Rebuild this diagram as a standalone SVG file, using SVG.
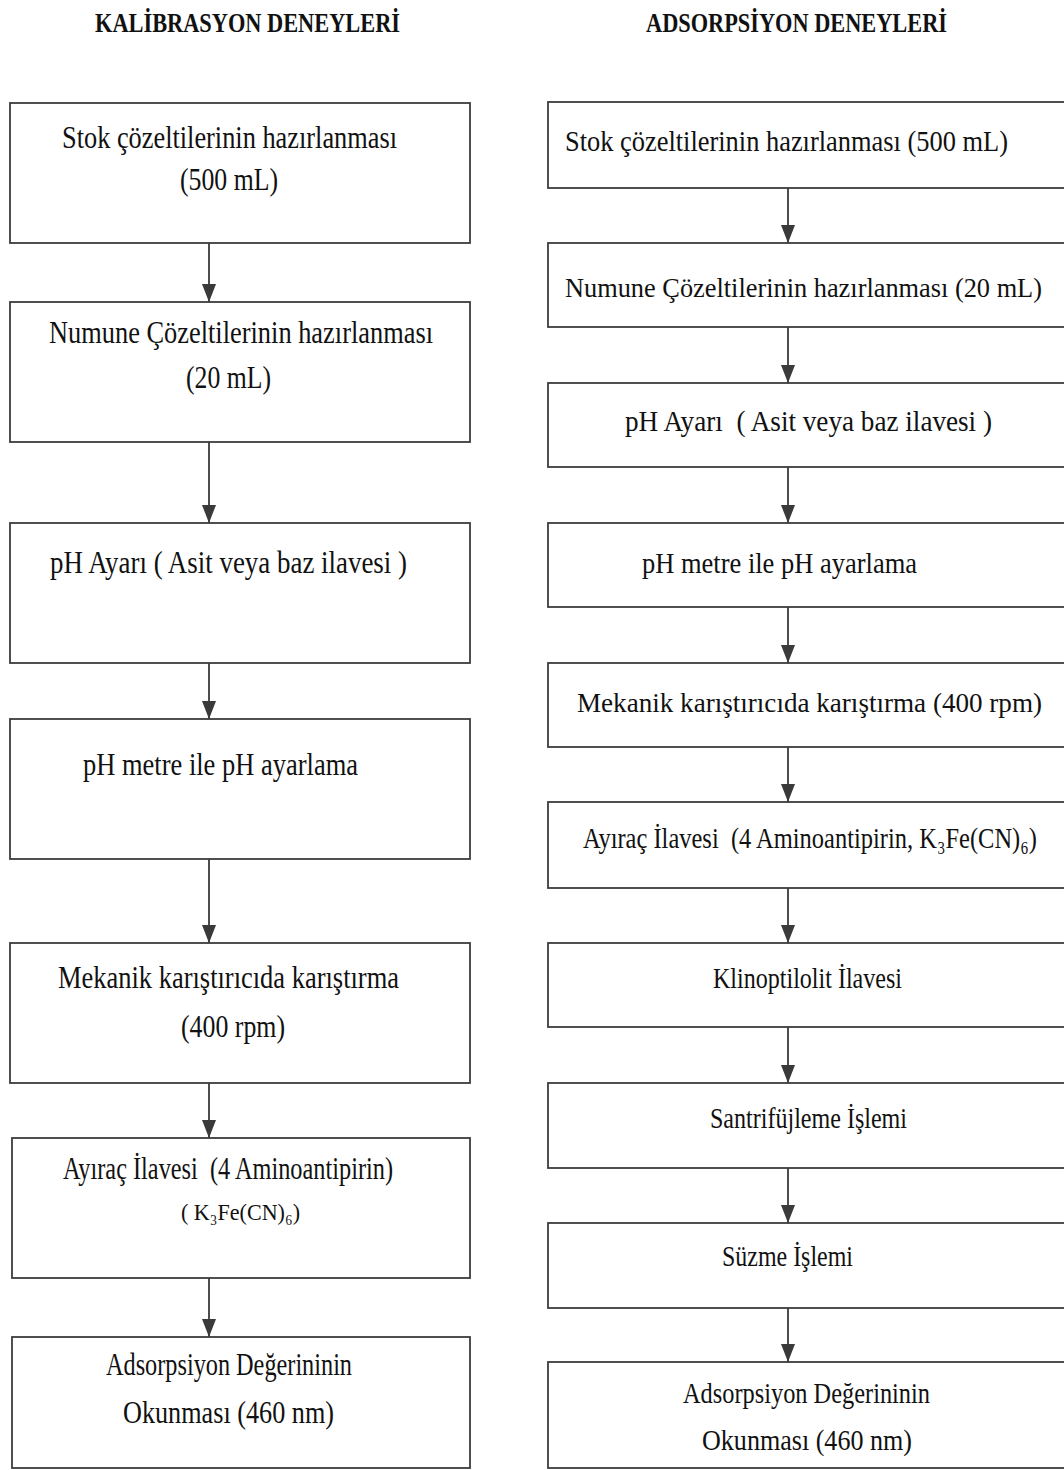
<svg xmlns="http://www.w3.org/2000/svg" width="1064" height="1470" viewBox="0 0 1064 1470">
<defs>
<marker id="ah" markerUnits="userSpaceOnUse" markerWidth="18" markerHeight="14" refX="18" refY="7" orient="auto" viewBox="0 0 18 14">
<path d="M0,0 L18,7 L0,14 Z" fill="#3a3a3a"/>
</marker>
<style>
.box{fill:#fff;stroke:#3c3c3c;stroke-width:1.8}
.t{font-family:"Liberation Serif","DejaVu Serif","Times New Roman",serif;fill:#111;white-space:pre}
.l{font-size:32px}
.r{font-size:29px}
.rs{font-size:27px}
.s{font-size:23px}
.h{font-family:"Liberation Serif","Times New Roman",serif;font-weight:bold;font-size:28px;fill:#111}
.c{stroke:#3a3a3a;stroke-width:1.8;fill:none;marker-end:url(#ah)}
</style>
</defs>
<rect width="1064" height="1470" fill="#fff"/>
<g id="titles">
<text class="h" x="95" y="32" textLength="305" lengthAdjust="spacingAndGlyphs">KALİBRASYON DENEYLERİ</text>
<text class="h" x="646" y="32" textLength="301" lengthAdjust="spacingAndGlyphs">ADSORPSİYON DENEYLERİ</text>
</g>
<g id="connectors">
<line class="c" x1="209" y1="243" x2="209" y2="302"/>
<line class="c" x1="209" y1="442" x2="209" y2="523"/>
<line class="c" x1="209" y1="663" x2="209" y2="719"/>
<line class="c" x1="209" y1="859" x2="209" y2="943"/>
<line class="c" x1="209" y1="1083" x2="209" y2="1138"/>
<line class="c" x1="209" y1="1278" x2="209" y2="1337"/>
<line class="c" x1="788" y1="188" x2="788" y2="243"/>
<line class="c" x1="788" y1="327" x2="788" y2="383"/>
<line class="c" x1="788" y1="467" x2="788" y2="523"/>
<line class="c" x1="788" y1="607" x2="788" y2="663"/>
<line class="c" x1="788" y1="747" x2="788" y2="802"/>
<line class="c" x1="788" y1="888" x2="788" y2="943"/>
<line class="c" x1="788" y1="1027" x2="788" y2="1083"/>
<line class="c" x1="788" y1="1168" x2="788" y2="1223"/>
<line class="c" x1="788" y1="1308" x2="788" y2="1362"/>
</g>
<g id="L1"><rect class="box" x="10" y="103" width="460" height="140"/>
<text class="t l" x="62" y="148" textLength="335" lengthAdjust="spacingAndGlyphs">Stok çözeltilerinin hazırlanması</text>
<text class="t l" x="180" y="190" textLength="98" lengthAdjust="spacingAndGlyphs">(500 mL)</text></g>
<g id="L2"><rect class="box" x="10" y="302" width="460" height="140"/>
<text class="t l" x="49" y="343" textLength="384" lengthAdjust="spacingAndGlyphs">Numune Çözeltilerinin hazırlanması</text>
<text class="t l" x="186" y="388" textLength="85" lengthAdjust="spacingAndGlyphs">(20 mL)</text></g>
<g id="L3"><rect class="box" x="10" y="523" width="460" height="140"/>
<text class="t l" x="50" y="573" textLength="357" lengthAdjust="spacingAndGlyphs">pH Ayarı ( Asit veya baz ilavesi )</text></g>
<g id="L4"><rect class="box" x="10" y="719" width="460" height="140"/>
<text class="t l" x="83" y="775" textLength="275" lengthAdjust="spacingAndGlyphs">pH metre ile pH ayarlama</text></g>
<g id="L5"><rect class="box" x="10" y="943" width="460" height="140"/>
<text class="t l" x="58" y="988" textLength="341" lengthAdjust="spacingAndGlyphs">Mekanik karıştırıcıda karıştırma</text>
<text class="t l" x="181" y="1037" textLength="104" lengthAdjust="spacingAndGlyphs">(400 rpm)</text></g>
<g id="L6"><rect class="box" x="12" y="1138" width="458" height="140"/>
<text class="t l" x="63" y="1179" textLength="330" lengthAdjust="spacingAndGlyphs">Ayıraç İlavesi  (4 Aminoantipirin)</text>
<text class="t s" x="181" y="1220" textLength="119" lengthAdjust="spacingAndGlyphs">( K₃Fe(CN)₆)</text></g>
<g id="L7"><rect class="box" x="12" y="1337" width="458" height="131"/>
<text class="t l" x="106" y="1375" textLength="246" lengthAdjust="spacingAndGlyphs">Adsorpsiyon Değerininin</text>
<text class="t l" x="123" y="1423" textLength="211" lengthAdjust="spacingAndGlyphs">Okunması (460 nm)</text></g>
<g id="R1"><rect class="box" x="548" y="102" width="530" height="86"/>
<text class="t r" x="565" y="151" textLength="443" lengthAdjust="spacingAndGlyphs">Stok çözeltilerinin hazırlanması (500 mL)</text></g>
<g id="R2"><rect class="box" x="548" y="243" width="530" height="84"/>
<text class="t rs" x="565" y="297" textLength="477" lengthAdjust="spacingAndGlyphs">Numune Çözeltilerinin hazırlanması (20 mL)</text></g>
<g id="R3"><rect class="box" x="548" y="383" width="530" height="84"/>
<text class="t r" x="625" y="431" textLength="367" lengthAdjust="spacingAndGlyphs">pH Ayarı  ( Asit veya baz ilavesi )</text></g>
<g id="R4"><rect class="box" x="548" y="523" width="530" height="84"/>
<text class="t r" x="642" y="573" textLength="275" lengthAdjust="spacingAndGlyphs">pH metre ile pH ayarlama</text></g>
<g id="R5"><rect class="box" x="548" y="663" width="530" height="84"/>
<text class="t rs" x="577" y="712" textLength="465" lengthAdjust="spacingAndGlyphs">Mekanik karıştırıcıda karıştırma (400 rpm)</text></g>
<g id="R6"><rect class="box" x="548" y="802" width="530" height="86"/>
<text class="t r" transform="translate(583,848) scale(0.85,1)" x="0" y="0" textLength="534" lengthAdjust="spacingAndGlyphs">Ayıraç İlavesi  (4 Aminoantipirin, K₃Fe(CN)₆)</text></g>
<g id="R7"><rect class="box" x="548" y="943" width="530" height="84"/>
<text class="t r" x="713" y="988" textLength="189" lengthAdjust="spacingAndGlyphs">Klinoptilolit İlavesi</text></g>
<g id="R8"><rect class="box" x="548" y="1083" width="530" height="85"/>
<text class="t r" x="710" y="1128" textLength="197" lengthAdjust="spacingAndGlyphs">Santrifüjleme İşlemi</text></g>
<g id="R9"><rect class="box" x="548" y="1223" width="530" height="85"/>
<text class="t r" x="722" y="1266" textLength="131" lengthAdjust="spacingAndGlyphs">Süzme İşlemi</text></g>
<g id="R10"><rect class="box" x="548" y="1362" width="530" height="106"/>
<text class="t r" x="683" y="1403" textLength="247" lengthAdjust="spacingAndGlyphs">Adsorpsiyon Değerininin</text>
<text class="t r" x="702" y="1450" textLength="210" lengthAdjust="spacingAndGlyphs">Okunması (460 nm)</text></g>
</svg>
